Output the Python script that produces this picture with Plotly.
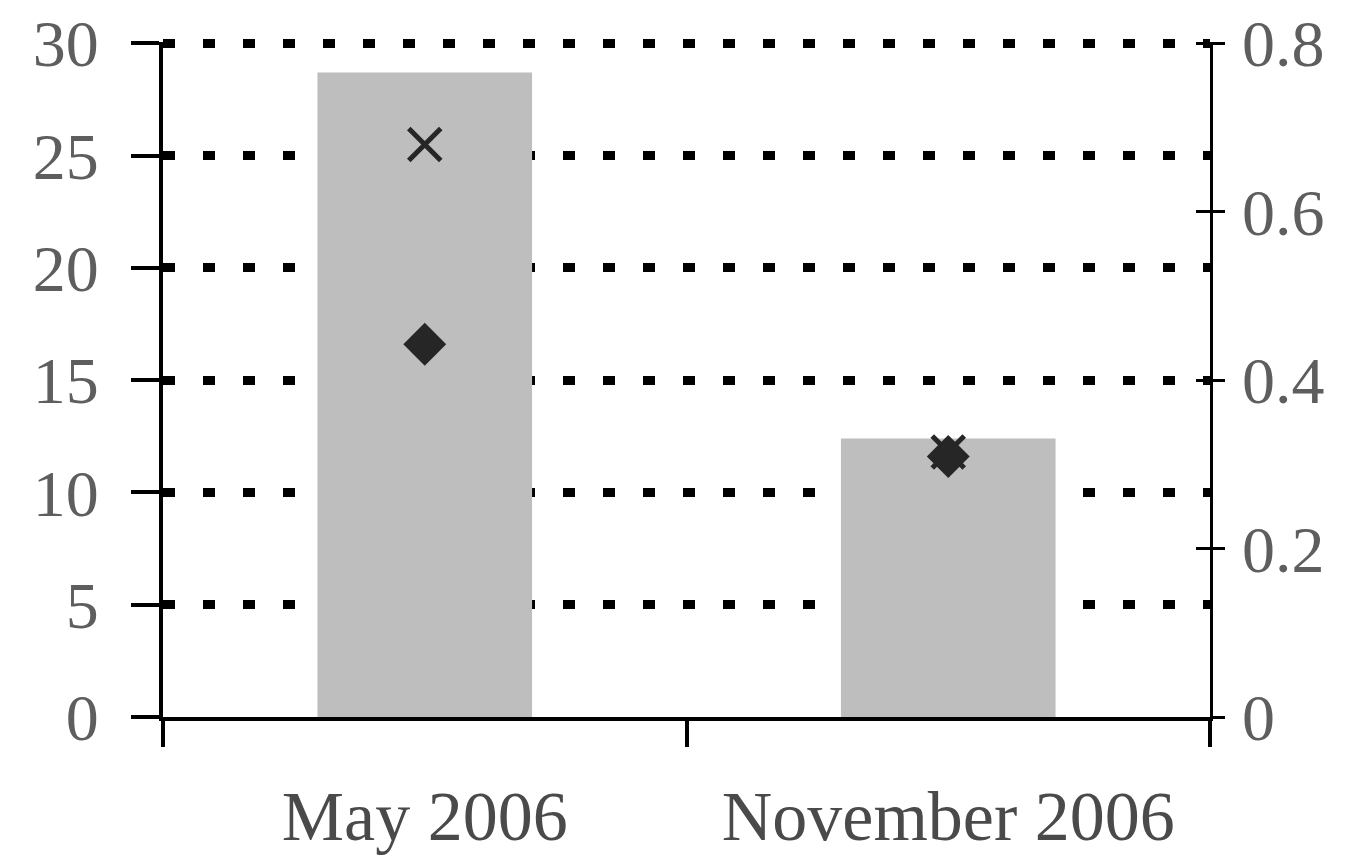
import plotly.graph_objects as go

categories = ["May 2006", "November 2006"]
bar_values = [28.7, 12.4]
x_marker_values = [25.5, 11.8]
diamond_values = [16.6, 11.6]
left_ticks = [0, 5, 10, 15, 20, 25, 30]
right_ticks = [0, 0.2, 0.4, 0.6, 0.8]
right_tick_labels = ["0", "0.2", "0.4", "0.6", "0.8"]

FONT = "Liberation Serif"
LABEL_COLOR = "#5e5e5e"
LEFT_MAX = 30.06
RIGHT_MAX = 0.8 * LEFT_MAX / 30

fig = go.Figure()
fig.add_trace(go.Bar(x=categories, y=bar_values, marker=dict(color="#bebebe", line=dict(width=0)),
                     showlegend=False))
fig.add_trace(go.Scatter(x=categories, y=x_marker_values, mode="markers",
                         marker=dict(symbol="x-thin", size=32, line=dict(width=5, color="#262626"),
                                     color="#262626"), showlegend=False))
fig.add_trace(go.Scatter(x=categories, y=diamond_values, mode="markers",
                         marker=dict(symbol="diamond", size=33, color="#262626", line=dict(width=0)),
                         showlegend=False))
fig.add_trace(go.Scatter(x=categories, y=[None, None], yaxis="y2", mode="markers", showlegend=False))
fig.add_trace(go.Scatter(x=categories, y=[None, None], yaxis="y3", mode="markers", showlegend=False))

fig.update_layout(
    width=1354, height=852,
    margin=dict(l=155, r=152, t=34, b=143, autoexpand=False),
    paper_bgcolor="white", plot_bgcolor="white",
    bargap=0.59,
    font=dict(family=FONT, size=66, color=LABEL_COLOR),
    xaxis=dict(type="category", range=[-0.5, 1.5], showline=True, linewidth=4, linecolor="black",
               ticks="outside", tickson="boundaries", ticklen=26, tickwidth=4, tickcolor="black",
               showgrid=False, ticklabelstandoff=35, automargin=False,
               tickfont=dict(family=FONT, size=70, color="#4a4a4a")),
    yaxis=dict(range=[0, LEFT_MAX], tickvals=left_ticks, ticktext=[str(v) for v in left_ticks],
               showline=True, linewidth=4, linecolor="black",
               ticks="outside", ticklen=28, tickwidth=4, tickcolor="black",
               showgrid=True, gridcolor="black", gridwidth=9, griddash="12px,28px",
               zeroline=False, ticklabelstandoff=19, automargin=False, ticklabeloverflow="allow",
               tickfont=dict(family=FONT, size=66, color=LABEL_COLOR)),
    yaxis2=dict(range=[0, RIGHT_MAX], overlaying="y", side="right", anchor="x",
                tickvals=right_ticks, ticktext=right_tick_labels,
                showline=True, linewidth=2.5, linecolor="black",
                ticks="outside", ticklen=12, tickwidth=2.5, tickcolor="black",
                showgrid=False, zeroline=False, ticklabelstandoff=4, automargin=False,
                ticklabeloverflow="allow",
                tickfont=dict(family=FONT, size=66, color=LABEL_COLOR)),
    yaxis3=dict(range=[0, RIGHT_MAX], overlaying="y", side="right", anchor="x",
                tickvals=right_ticks, showticklabels=False,
                showline=False, ticks="inside", ticklen=14, tickwidth=2.5, tickcolor="black",
                showgrid=False, zeroline=False, automargin=False),
)

fig.write_html("out.html")
